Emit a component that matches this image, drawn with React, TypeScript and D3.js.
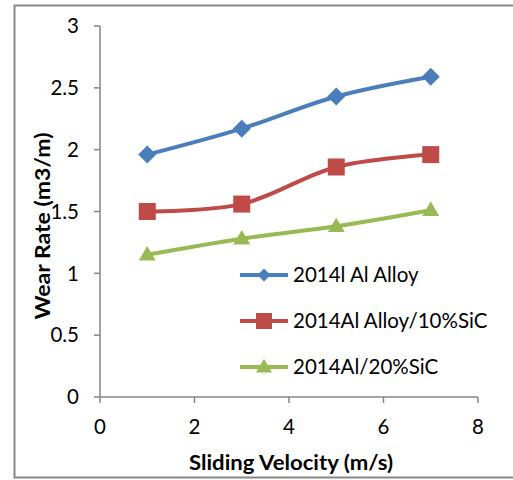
import React from "react";
import * as d3 from "d3";

const velocities = [1, 3, 5, 7];
const alloyWear = [1.96, 2.17, 2.43, 2.59];
const sic10Wear = [1.5, 1.56, 1.86, 1.96];
const sic20Wear = [1.15, 1.28, 1.38, 1.51];
const seriesNames = ["2014l Al Alloy", "2014Al Alloy/10%SiC", "2014Al/20%SiC"];
const seriesColors = ["#4A7EBB", "#BE4B48", "#98B954"];
const seriesMarkers = ["diamond", "square", "triangle"];
const xTicks = [0, 2, 4, 6, 8];
const yTicks = [0, 0.5, 1, 1.5, 2, 2.5, 3];

const FONT = "Lato, 'Open Sans', sans-serif";

function Marker({ type, x, y, color, s }: { type: string; x: number; y: number; color: string; s: number }) {
  if (type === "diamond") {
    const h = s / 2;
    return <path d={`M${x},${y - h}L${x + h},${y}L${x},${y + h}L${x - h},${y}Z`} fill={color} />;
  }
  if (type === "square") {
    return <rect x={x - s / 2} y={y - s / 2} width={s} height={s} fill={color} />;
  }
  const h = s * 0.85;
  return <path d={`M${x},${y - h * 0.6}L${x + s / 2},${y + h * 0.4}L${x - s / 2},${y + h * 0.4}Z`} fill={color} />;
}

export default function App() {
  const W = 513, H = 480;
  const x = d3.scaleLinear().domain([0, 8]).range([100, 478]);
  const y = d3.scaleLinear().domain([0, 3]).range([397, 26]);
  const data = [alloyWear, sic10Wear, sic20Wear];
  const line = d3
    .line<number>()
    .x((_, i) => x(velocities[i]))
    .y((d) => y(d))
    .curve(d3.curveCatmullRom.alpha(0.5));
  const axisColor = "#868686";
  const legendY = [275, 321, 367];
  return (
    <svg width={W} height={H} style={{ position: "absolute", left: 0, top: 0 }}>
      <rect x={0} y={0} width={W} height={H} fill="#fff" />
      <rect x={14.5} y={5.5} width={520} height={472} fill="none" stroke="#888" strokeWidth={2} />
      <line x1={100} x2={100} y1={y(3)} y2={y(0)} stroke={axisColor} strokeWidth={1.5} />
      <line x1={x(0)} x2={x(8)} y1={397} y2={397} stroke={axisColor} strokeWidth={1.5} />
      {yTicks.map((t) => (
        <g key={"y" + t}>
          <line x1={94} x2={100} y1={y(t)} y2={y(t)} stroke={axisColor} strokeWidth={1.5} />
          <text x={79} y={y(t)} dy="0.35em" textAnchor="end" fontFamily={FONT} fontSize={20.5} fill="#000">
            {t}
          </text>
        </g>
      ))}
      {xTicks.map((t) => (
        <g key={"x" + t}>
          <line x1={x(t)} x2={x(t)} y1={397} y2={403} stroke={axisColor} strokeWidth={1.5} />
          <text x={x(t)} y={427} dy="0.35em" textAnchor="middle" fontFamily={FONT} fontSize={20.5} fill="#000">
            {t}
          </text>
        </g>
      ))}
      <text
        x={291}
        y={463}
        dy="0.35em"
        textAnchor="middle"
        fontFamily={FONT}
        fontSize={20}
        fontWeight="bold"
        fill="#000"
        textLength={204}
        lengthAdjust="spacingAndGlyphs"
      >
        Sliding Velocity (m/s)
      </text>
      <text
        transform={`translate(43,226) rotate(-90)`}
        dy="0.35em"
        textAnchor="middle"
        fontFamily={FONT}
        fontSize={20}
        fontWeight="bold"
        fill="#000"
        textLength={187}
        lengthAdjust="spacingAndGlyphs"
      >
        Wear Rate (m3/m)
      </text>
      {data.map((vals, si) => (
        <g key={"s" + si}>
          <path d={line(vals) || ""} fill="none" stroke={seriesColors[si]} strokeWidth={4} />
          {vals.map((v, i) => (
            <Marker key={i} type={seriesMarkers[si]} x={x(velocities[i])} y={y(v)} color={seriesColors[si]} s={seriesMarkers[si] === "diamond" ? 18 : 17} />
          ))}
        </g>
      ))}
      {seriesNames.map((n, si) => (
        <g key={"l" + si}>
          <line x1={240} x2={288} y1={legendY[si]} y2={legendY[si]} stroke={seriesColors[si]} strokeWidth={4} />
          <Marker type={seriesMarkers[si]} x={264} y={legendY[si]} color={seriesColors[si]} s={seriesMarkers[si] === "diamond" ? 13 : 16} />
          <text x={293} y={legendY[si]} dy="0.35em" fontFamily={FONT} fontSize={20.5} fill="#000">
            {n}
          </text>
        </g>
      ))}
    </svg>
  );
}
